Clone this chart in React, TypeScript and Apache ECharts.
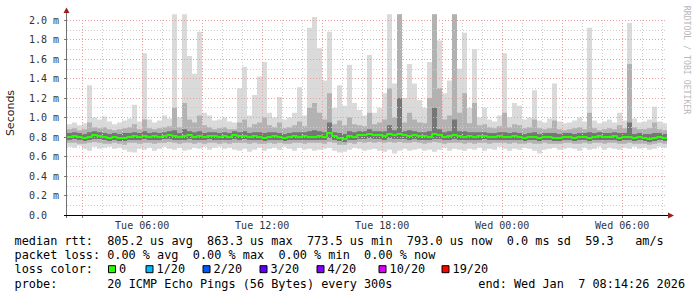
import React, { useEffect, useRef } from 'react';
import * as echarts from 'echarts';

// Time axis in hours since Tue 00:00 (end: Wed Jan 7 08:14:26, 30 h window)
const startHour = 2 + 14 / 60 + 26 / 3600;
const spanHours = 30;
const endHour = startHour + spanHours;
const stepHours = 0.25;

// RTT distribution (milliseconds), 15-minute bins
const maxV = [
  0.93, 0.95, 0.92, 0.94, 1.33, 1.00, 0.98, 1.01, 0.96, 0.93,
  0.95, 0.97, 0.99, 1.13, 0.96, 1.66, 0.98, 0.95, 0.97, 1.02,
  0.99, 2.06, 1.00, 2.06, 1.63, 1.45, 1.88, 1.05, 1.02, 0.97,
  0.98, 1.00, 0.96, 0.95, 1.30, 1.52, 1.02, 1.23, 1.42, 1.57,
  1.05, 1.00, 1.21, 0.98, 1.00, 1.05, 1.31, 1.02, 1.92, 2.03,
  1.71, 1.38, 1.88, 1.10, 1.33, 1.12, 1.54, 1.15, 1.08, 1.02,
  1.64, 1.05, 1.10, 1.25, 2.06, 1.35, 2.06, 1.20, 1.55, 1.35,
  1.18, 1.10, 1.57, 2.06, 1.79, 1.25, 1.38, 2.06, 1.50, 1.87,
  1.10, 1.70, 1.00, 1.10, 0.98, 0.96, 1.02, 1.66, 1.00, 1.15,
  1.12, 0.98, 1.00, 1.28, 0.97, 0.95, 0.99, 1.35, 0.96, 0.94,
  0.95, 0.97, 1.00, 0.96, 1.92, 0.97, 0.94, 0.96, 0.98, 0.95,
  1.05, 0.97, 1.97, 0.99, 0.95, 0.96, 0.98, 1.11, 0.96, 0.94,
];
const hiMid = [
  0.88, 0.89, 0.87, 0.88, 0.95, 0.90, 0.89, 0.90, 0.88, 0.87,
  0.88, 0.89, 0.90, 0.93, 0.88, 0.98, 0.89, 0.88, 0.89, 0.90,
  0.91, 1.10, 0.90, 1.15, 0.98, 0.95, 1.02, 0.92, 0.90, 0.88,
  0.89, 0.90, 0.88, 0.88, 0.95, 0.98, 0.90, 0.93, 0.95, 1.00,
  0.92, 0.90, 0.95, 0.89, 0.90, 0.92, 0.96, 0.91, 1.10, 1.15,
  1.05, 0.98, 1.25, 0.93, 0.97, 0.92, 1.00, 0.93, 0.92, 0.91,
  1.05, 0.93, 0.95, 0.98, 1.30, 1.00, 2.06, 0.95, 1.05, 0.98,
  0.95, 0.94, 1.20, 2.06, 1.30, 0.98, 1.02, 2.06, 1.05, 1.25,
  0.94, 1.15, 0.92, 0.93, 0.90, 0.89, 0.91, 1.05, 0.90, 0.93,
  0.92, 0.89, 0.90, 0.98, 0.89, 0.88, 0.89, 0.97, 0.88, 0.87,
  0.88, 0.89, 0.90, 0.88, 1.05, 0.89, 0.87, 0.88, 0.89, 0.88,
  0.92, 0.89, 1.55, 0.90, 0.88, 0.88, 0.89, 0.95, 0.88, 0.87,
];
const hiDark = [
  0.84, 0.85, 0.84, 0.83, 0.85, 0.86, 0.85, 0.84, 0.83, 0.84,
  0.83, 0.84, 0.84, 0.85, 0.84, 0.86, 0.84, 0.85, 0.84, 0.85,
  0.86, 0.87, 0.84, 0.88, 0.86, 0.85, 0.86, 0.84, 0.85, 0.85,
  0.84, 0.85, 0.84, 0.86, 0.85, 0.86, 0.84, 0.85, 0.85, 0.84,
  0.85, 0.85, 0.84, 0.83, 0.84, 0.85, 0.85, 0.85, 0.86, 0.87,
  0.86, 0.85, 0.95, 0.85, 0.84, 0.83, 0.86, 0.85, 0.86, 0.86,
  0.88, 0.86, 0.86, 0.86, 0.92, 0.87, 1.20, 0.86, 0.87, 0.86,
  0.85, 0.85, 0.86, 1.10, 0.88, 0.85, 0.86, 0.98, 0.86, 0.86,
  0.85, 0.85, 0.85, 0.85, 0.84, 0.84, 0.85, 0.85, 0.84, 0.85,
  0.84, 0.83, 0.84, 0.85, 0.83, 0.84, 0.84, 0.84, 0.83, 0.84,
  0.84, 0.83, 0.84, 0.84, 0.85, 0.84, 0.85, 0.84, 0.84, 0.85,
  0.84, 0.84, 0.95, 0.83, 0.84, 0.83, 0.83, 0.84, 0.84, 0.83,
];
const median = [
  0.80, 0.81, 0.80, 0.79, 0.80, 0.82, 0.81, 0.80, 0.79, 0.80,
  0.79, 0.79, 0.80, 0.81, 0.80, 0.81, 0.80, 0.81, 0.80, 0.81,
  0.82, 0.81, 0.80, 0.81, 0.82, 0.80, 0.81, 0.80, 0.81, 0.81,
  0.80, 0.81, 0.80, 0.82, 0.81, 0.81, 0.80, 0.81, 0.80, 0.79,
  0.80, 0.81, 0.80, 0.79, 0.80, 0.81, 0.80, 0.81, 0.80, 0.80,
  0.81, 0.80, 0.84, 0.81, 0.79, 0.78, 0.81, 0.80, 0.82, 0.82,
  0.83, 0.82, 0.82, 0.81, 0.83, 0.82, 0.83, 0.82, 0.81, 0.82,
  0.81, 0.81, 0.80, 0.83, 0.82, 0.80, 0.81, 0.82, 0.81, 0.80,
  0.81, 0.80, 0.81, 0.81, 0.80, 0.80, 0.81, 0.80, 0.80, 0.81,
  0.80, 0.79, 0.80, 0.80, 0.79, 0.80, 0.80, 0.79, 0.79, 0.80,
  0.80, 0.79, 0.80, 0.80, 0.79, 0.80, 0.81, 0.80, 0.80, 0.81,
  0.79, 0.80, 0.80, 0.79, 0.80, 0.79, 0.78, 0.79, 0.80, 0.79,
];
const loDark = [
  0.77, 0.78, 0.77, 0.76, 0.77, 0.78, 0.78, 0.77, 0.76, 0.77,
  0.76, 0.76, 0.77, 0.77, 0.77, 0.78, 0.77, 0.77, 0.77, 0.78,
  0.78, 0.77, 0.77, 0.77, 0.78, 0.77, 0.77, 0.77, 0.78, 0.77,
  0.77, 0.77, 0.77, 0.78, 0.77, 0.78, 0.77, 0.77, 0.77, 0.76,
  0.77, 0.77, 0.77, 0.76, 0.77, 0.77, 0.77, 0.77, 0.77, 0.77,
  0.77, 0.77, 0.79, 0.77, 0.76, 0.75, 0.77, 0.77, 0.78, 0.78,
  0.79, 0.78, 0.78, 0.77, 0.79, 0.78, 0.78, 0.78, 0.77, 0.78,
  0.77, 0.77, 0.77, 0.78, 0.78, 0.77, 0.77, 0.78, 0.77, 0.77,
  0.77, 0.77, 0.77, 0.78, 0.77, 0.77, 0.77, 0.77, 0.77, 0.77,
  0.77, 0.76, 0.77, 0.77, 0.76, 0.77, 0.77, 0.76, 0.76, 0.77,
  0.77, 0.76, 0.77, 0.77, 0.76, 0.77, 0.77, 0.77, 0.77, 0.77,
  0.76, 0.77, 0.77, 0.76, 0.77, 0.76, 0.75, 0.76, 0.77, 0.76,
];
const loMid = [
  0.74, 0.74, 0.73, 0.73, 0.74, 0.75, 0.74, 0.73, 0.73, 0.74,
  0.73, 0.72, 0.74, 0.74, 0.73, 0.74, 0.74, 0.73, 0.74, 0.74,
  0.75, 0.74, 0.73, 0.74, 0.74, 0.73, 0.74, 0.73, 0.74, 0.74,
  0.73, 0.74, 0.73, 0.74, 0.74, 0.74, 0.73, 0.74, 0.73, 0.73,
  0.74, 0.73, 0.74, 0.73, 0.73, 0.74, 0.74, 0.73, 0.74, 0.74,
  0.74, 0.73, 0.75, 0.74, 0.72, 0.72, 0.74, 0.73, 0.75, 0.74,
  0.75, 0.74, 0.75, 0.74, 0.75, 0.74, 0.75, 0.74, 0.74, 0.75,
  0.74, 0.73, 0.74, 0.75, 0.74, 0.73, 0.74, 0.74, 0.74, 0.73,
  0.74, 0.73, 0.74, 0.74, 0.73, 0.74, 0.74, 0.74, 0.73, 0.74,
  0.73, 0.73, 0.74, 0.73, 0.73, 0.74, 0.73, 0.73, 0.73, 0.74,
  0.74, 0.73, 0.73, 0.74, 0.73, 0.74, 0.74, 0.73, 0.74, 0.74,
  0.73, 0.73, 0.74, 0.73, 0.73, 0.73, 0.72, 0.73, 0.74, 0.73,
];
const minV = [
  0.70, 0.69, 0.71, 0.68, 0.66, 0.70, 0.68, 0.69, 0.70, 0.68,
  0.69, 0.67, 0.65, 0.64, 0.68, 0.67, 0.69, 0.66, 0.68, 0.70,
  0.68, 0.67, 0.69, 0.66, 0.67, 0.69, 0.68, 0.70, 0.67, 0.69,
  0.70, 0.68, 0.69, 0.67, 0.66, 0.68, 0.65, 0.67, 0.69, 0.66,
  0.68, 0.69, 0.67, 0.70, 0.68, 0.66, 0.69, 0.67, 0.68, 0.66,
  0.67, 0.68, 0.69, 0.66, 0.64, 0.65, 0.67, 0.69, 0.68, 0.66,
  0.67, 0.68, 0.66, 0.65, 0.67, 0.63, 0.66, 0.68, 0.66, 0.67,
  0.68, 0.66, 0.67, 0.65, 0.67, 0.69, 0.66, 0.68, 0.67, 0.66,
  0.68, 0.67, 0.69, 0.66, 0.68, 0.67, 0.70, 0.68, 0.66, 0.68,
  0.67, 0.69, 0.68, 0.66, 0.63, 0.67, 0.68, 0.69, 0.67, 0.68,
  0.69, 0.68, 0.66, 0.69, 0.67, 0.68, 0.70, 0.67, 0.69, 0.68,
  0.67, 0.69, 0.68, 0.70, 0.68, 0.69, 0.67, 0.68, 0.70, 0.69,
];

// Legend content
const legendRows = [
  'median rtt:  805.2 us avg  863.3 us max  773.5 us min  793.0 us now  0.0 ms sd  59.3   am/s',
  'packet loss: 0.00 % avg  0.00 % max  0.00 % min  0.00 % now',
  'loss color:',
  'probe:       20 ICMP Echo Pings (56 Bytes) every 300s',
];
const endText = 'end: Wed Jan  7 08:14:26 2026';
const lossLabels = ['0', '1/20', '2/20', '3/20', '4/20', '10/20', '19/20'];
const lossColors = ['#26ff00', '#00b8ff', '#0059ff', '#5e00ff', '#7e00ff', '#dd00ff', '#ff0000'];

// Layout constants
const W = 697;
const H = 297;
const PLOT_L = 67;
const PLOT_R = 667;
const PLOT_TOP = 20; // y of 2.0 m
const PLOT_BOT = 215; // y of 0.0
const MONO = '"DejaVu Sans Mono", monospace';
const LEG_X0 = 14.5;
const LEG_CW = 7.134;
const LEG_FONT = 11.85;
const rowY = [240.7, 255.2, 269.2, 283.5];
const swatchX = [108, 145.5, 202.5, 259.5, 316.5, 378.5, 441.5];
const ARROW = '#9a2020';

function withTimes(vals: number[]) {
  const pts: number[][] = vals.map((v, i) => [startHour + i * stepHours, v]);
  pts.push([endHour, vals[vals.length - 1]]);
  return pts;
}
function monoTexts(str: string, x0: number, y: number) {
  const out: any[] = [];
  const re = /\S+(?: \S+)*/g;
  let m: RegExpExecArray | null;
  while ((m = re.exec(str)) !== null) {
    out.push({
      type: 'text',
      x: x0 + m.index * LEG_CW,
      y,
      silent: true,
      style: {
        text: m[0],
        font: `${LEG_FONT}px ${MONO}`,
        fill: '#000',
        align: 'left',
        verticalAlign: 'middle',
      },
    });
  }
  return out;
}

function fmtHour(v: number) {
  const r = Math.round(v / 6);
  if (Math.abs(v / 6 - r) > 1e-6) return '';
  const h = r * 6;
  const day = h < 24 ? 'Tue' : 'Wed';
  const hh = ((h % 24) + '').padStart(2, '0');
  return `${day} ${hh}:00`;
}

export default function App() {
  const ref = useRef<HTMLDivElement>(null);
  useEffect(() => {
    if (!ref.current) return;
    const chart = echarts.init(ref.current, null, { renderer: 'svg' });

    // Each layer fills from the axis up to its level; later layers paint over earlier ones.
    const layer = (vals: number[], color: string) => ({
      type: 'line',
      step: 'end',
      data: withTimes(vals),
      symbol: 'none',
      silent: true,
      clip: false,
      z: 2,
      lineStyle: { width: 0, opacity: 0 },
      areaStyle: { color, opacity: 1, origin: 'start' },
      emphasis: { disabled: true },
    });

    const LIGHT = '#dadada';
    const MID = '#b2b2b2';
    const DARK = '#767676';

    const graphics: any[] = [];
    graphics.push({
      type: 'line', silent: true, z: 10,
      shape: { x1: 66.5, y1: 218, x2: 66.5, y2: 12 },
      style: { stroke: '#707070', lineWidth: 1 },
    });
    graphics.push({
      type: 'polygon', silent: true, z: 10,
      shape: { points: [[63.5, 13], [69.5, 13], [66.5, 7.5]] },
      style: { fill: ARROW },
    });
    graphics.push({
      type: 'line', silent: true, z: 10,
      shape: { x1: 64, y1: 215.5, x2: 669, y2: 215.5 },
      style: { stroke: '#000', lineWidth: 1 },
    });
    graphics.push({
      type: 'polygon', silent: true, z: 10,
      shape: { points: [[668, 212.5], [668, 218.5], [674, 215.5]] },
      style: { fill: ARROW },
    });
    graphics.push({
      type: 'text', x: 10.5, y: 113, rotation: Math.PI / 2, silent: true,
      style: {
        text: 'Seconds', font: '11px "DejaVu Sans", sans-serif', fill: '#222',
        align: 'center', verticalAlign: 'middle',
      },
    });
    graphics.push({
      type: 'text', x: 686.5, y: 60, rotation: -Math.PI / 2, silent: true,
      style: {
        text: 'RRDTOOL / TOBI OETIKER', font: `8.2px ${MONO}`, fill: '#b8b8b8',
        align: 'center', verticalAlign: 'middle',
      },
    });
    legendRows.forEach((r, i) => graphics.push(...monoTexts(r, LEG_X0, rowY[i])));
    graphics.push(...monoTexts(endText, 478.3, rowY[3]));
    lossLabels.forEach((lab, i) => {
      graphics.push({
        type: 'rect', silent: true,
        shape: { x: swatchX[i] + 0.5, y: rowY[2] - 3.5, width: 7, height: 7 },
        style: { fill: lossColors[i], stroke: '#000', lineWidth: 1 },
      });
      graphics.push({
        type: 'text', x: swatchX[i] + 11, y: rowY[2], silent: true,
        style: {
          text: lab, font: `${LEG_FONT}px ${MONO}`, fill: '#000',
          align: 'left', verticalAlign: 'middle',
        },
      });
    });

    const gridGray = '#cdcdcd';
    const gridRed = '#e9a0a0';

    chart.setOption({
      animation: false,
      backgroundColor: '#ffffff',
      grid: {
        left: PLOT_L,
        right: W - PLOT_R,
        top: PLOT_TOP,
        bottom: H - PLOT_BOT,
        containLabel: false,
      },
      xAxis: [
        {
          type: 'value',
          min: startHour,
          max: endHour,
          splitNumber: 30,
          minInterval: 1,
          maxInterval: 1,
          z: 3,
          axisLine: { show: false },
          axisTick: { show: false },
          axisLabel: { show: false },
          splitLine: {
            show: true, showMinLine: false, showMaxLine: false,
            lineStyle: { color: gridGray, type: [1, 2], width: 1 },
          },
        },
        {
          type: 'value',
          min: startHour,
          max: endHour,
          splitNumber: 10,
          minInterval: 3,
          maxInterval: 3,
          position: 'bottom',
          z: 3,
          axisLine: { show: false },
          axisTick: { show: true, length: 3, lineStyle: { color: '#777' } },
          axisLabel: {
            formatter: fmtHour,
            fontFamily: MONO,
            fontSize: 10,
            color: '#333',
            margin: 5,
            showMinLabel: false,
            showMaxLabel: false,
          },
          splitLine: {
            show: true, showMinLine: false, showMaxLine: false,
            lineStyle: { color: gridRed, type: [1, 2], width: 1 },
          },
        },
      ],
      yAxis: {
        type: 'value',
        min: 0,
        max: 2,
        interval: 0.2,
        z: 3,
        axisLine: { show: false },
        axisTick: { show: true, length: 3, lineStyle: { color: '#777' } },
        axisLabel: {
          align: 'left',
          margin: 38,
          fontFamily: MONO,
          fontSize: 10,
          color: '#333',
          formatter: (v: number) => (Math.abs(v) < 1e-9 ? '0.0' : v.toFixed(1) + ' m'),
        },
        splitLine: {
          show: true, showMinLine: false,
          lineStyle: { color: gridRed, type: [1, 2], width: 1 },
        },
        minorTick: { show: false, splitNumber: 2 },
        minorSplitLine: {
          show: true,
          lineStyle: { color: gridGray, type: [1, 2], width: 1 },
        },
      },
      series: [
        layer(maxV, LIGHT),
        layer(hiMid, MID),
        layer(hiDark, DARK),
        layer(loDark, MID),
        layer(loMid, LIGHT),
        layer(minV, '#ffffff'),
        {
          type: 'line',
          step: 'end',
          data: withTimes(median),
          symbol: 'none',
          silent: true,
          clip: false,
          z: 5,
          lineStyle: { color: lossColors[0], width: 2 },
          emphasis: { disabled: true },
        },
      ],
      graphic: graphics,
    });
    return () => chart.dispose();
  }, []);
  return (
    <div
      ref={ref}
      style={{ position: 'fixed', left: 0, top: 0, width: W, height: H, background: '#fff' }}
    />
  );
}
